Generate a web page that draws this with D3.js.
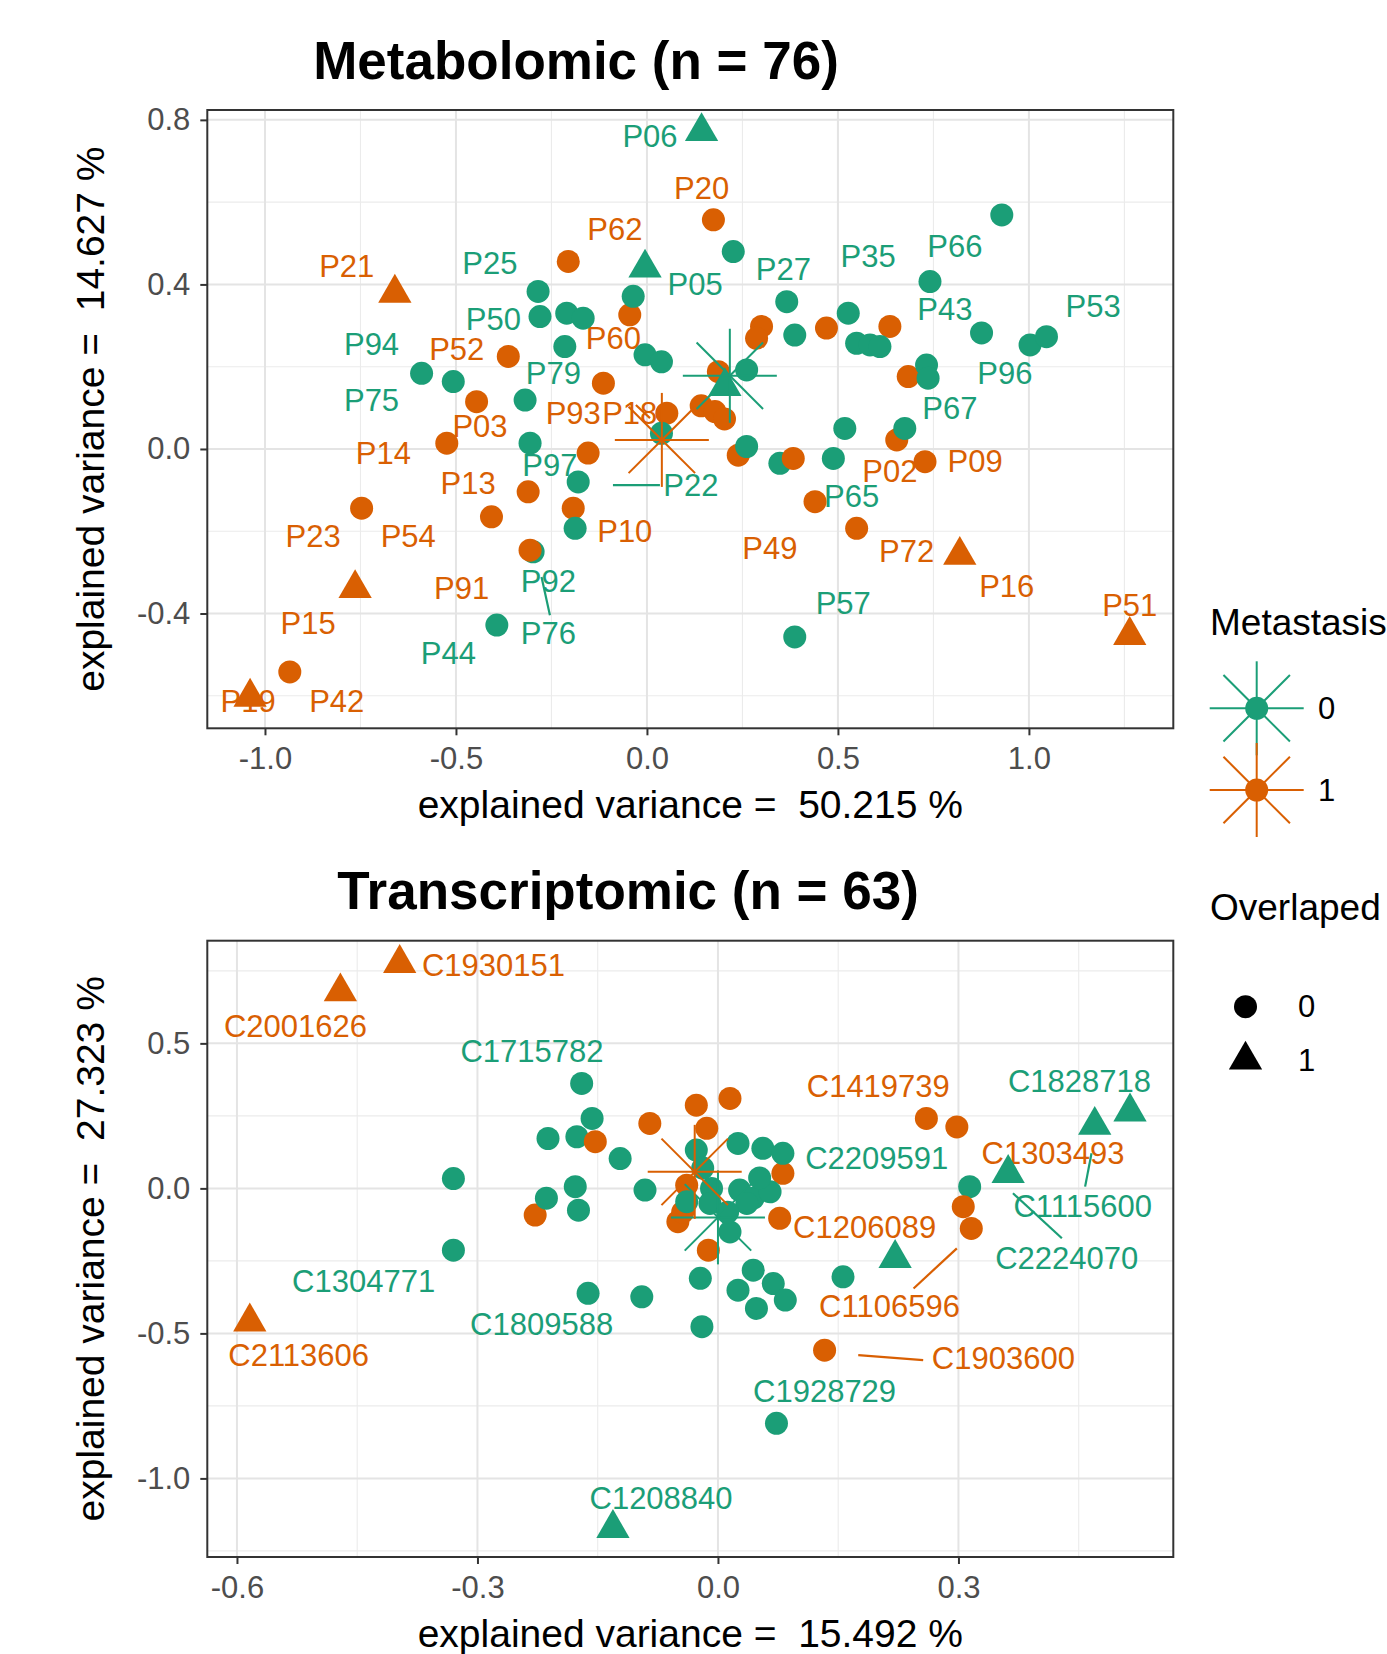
<!DOCTYPE html>
<html><head><meta charset="utf-8">
<script src="https://cdn.jsdelivr.net/npm/d3@7"></script>
<style>
body{margin:0;background:#fff}
svg{display:block}
text{font-family:"Liberation Sans",Arial,Helvetica,sans-serif;white-space:pre}
</style>
</head><body>
<svg id="chart" width="1387" height="1654"></svg>
<script>
// ---------------- DATA ----------------
const metastasisLevels = ["0", "1"];
const overlapLevels = ["0", "1"];
const seriesColors = ["#1B9E77", "#D95F02"];

// Metabolomic PCA samples: [PC1, PC2, metastasis, overlapped]
const metaSamples = [
  [-0.206,0.456,1,0],[-0.045,0.326,1,0],[-0.363,0.225,1,0],[-0.446,0.115,1,0],[-0.114,0.160,1,0],
  [0.052,0.087,1,0],[-0.524,0.014,1,0],[-0.154,-0.010,1,0],[-0.311,-0.104,1,0],[-0.407,-0.165,1,0],
  [-0.193,-0.144,1,0],[-0.747,-0.144,1,0],[-0.935,-0.542,1,0],[0.174,0.557,1,0],
  [0.300,0.298,1,0],[0.287,0.269,1,0],[0.470,0.294,1,0],[0.636,0.298,1,0],[0.684,0.176,1,0],
  [0.187,0.188,1,0],[0.142,0.105,1,0],[0.178,0.091,1,0],[0.203,0.073,1,0],[0.239,-0.015,1,0],
  [0.654,0.022,1,0],[0.728,-0.031,1,0],[0.440,-0.128,1,0],[0.549,-0.193,1,0],
  [-0.285,0.383,0,0],[-0.280,0.322,0,0],[-0.210,0.330,0,0],[-0.167,0.318,0,0],[-0.036,0.371,0,0],
  [-0.215,0.249,0,0],[-0.005,0.229,0,0],[0.038,0.212,0,0],[-0.590,0.184,0,0],[-0.507,0.164,0,0],
  [-0.319,0.119,0,0],[-0.306,0.014,0,0],[-0.180,-0.080,0,0],[-0.188,-0.193,0,0],[-0.298,-0.250,0,0],
  [-0.393,-0.428,0,0],[0.038,0.038,0,0],[0.226,0.480,0,0],[0.929,0.569,0,0],[0.741,0.407,0,0],
  [0.366,0.358,0,0],[0.387,0.277,0,0],[0.527,0.330,0,0],[0.549,0.257,0,0],[0.584,0.253,0,0],
  [0.610,0.249,0,0],[0.876,0.282,0,0],[1.003,0.253,0,0],[1.046,0.273,0,0],[0.732,0.204,0,0],
  [0.736,0.172,0,0],[0.261,0.192,0,0],[0.261,0.006,0,0],[0.348,-0.035,0,0],[0.518,0.050,0,0],
  [0.488,-0.023,0,0],[0.675,0.050,0,0],[0.387,-0.457,0,0],
  [0.143,0.772,0,1],[-0.005,0.440,0,1],[0.204,0.152,0,1],
  [0.383,-0.023,1,0],[-0.306,-0.246,1,0],
  [-0.660,0.379,1,1],[-0.764,-0.339,1,1],[-1.039,-0.603,1,1],[0.819,-0.258,1,1],[1.264,-0.453,1,1]
];
// labels: [text, x, y, metastasis]
const metaLabels = [
  ["P06",0.008,0.760,0],["P20",0.143,0.634,1],["P62",-0.084,0.533,1],["P21",-0.786,0.444,1],
  ["P25",-0.411,0.452,0],["P05",0.126,0.400,0],["P27",0.357,0.436,0],["P35",0.579,0.468,0],
  ["P66",0.806,0.492,0],["P43",0.780,0.338,0],["P53",1.168,0.346,0],["P50",-0.402,0.314,0],
  ["P60",-0.088,0.269,1],["P94",-0.721,0.253,0],["P52",-0.498,0.241,1],["P79",-0.245,0.184,0],
  ["P96",0.937,0.184,0],["P75",-0.721,0.119,0],["P67",0.793,0.099,0],["P93",-0.193,0.087,1],
  ["P18",-0.045,0.087,1],["P03",-0.437,0.054,1],["P14",-0.690,-0.010,1],["P97",-0.254,-0.039,0],
  ["P09",0.859,-0.031,1],["P02",0.636,-0.055,1],["P13",-0.468,-0.083,1],["P22",0.115,-0.088,0],
  ["P65",0.536,-0.116,0],["P10",-0.058,-0.201,1],["P23",-0.874,-0.213,1],["P54",-0.625,-0.213,1],
  ["P49",0.322,-0.242,1],["P72",0.680,-0.250,1],["P92",-0.258,-0.323,0],["P91",-0.485,-0.339,1],
  ["P16",0.942,-0.335,1],["P57",0.514,-0.375,0],["P51",1.264,-0.380,1],["P15",-0.887,-0.424,1],
  ["P76",-0.258,-0.448,0],["P44",-0.520,-0.497,0],["P19",-1.044,-0.615,1],["P42",-0.812,-0.615,1]
];
// label connector segments: [x1, y1, x2, y2, metastasis]
const metaSegments = [
  [-0.089,-0.088,0.034,-0.088,0],[-0.276,-0.311,-0.254,-0.404,0],[-0.029,0.107,0.008,0.075,1]
];
// group centroids: [x, y, metastasis]
const metaCentroids = [[0.217,0.178,0],[0.039,0.022,1]];
const metaXTicks = [-1.0,-0.5,0.0,0.5,1.0];
const metaXTickLabels = ["-1.0","-0.5","0.0","0.5","1.0"];
const metaYTicks = [0.8,0.4,0.0,-0.4];
const metaYTickLabels = ["0.8","0.4","0.0","-0.4"];

// Transcriptomic PCA samples
const transSamples = [
  [-0.228,-0.092,1,0],[-0.085,0.224,1,0],[-0.027,0.287,1,0],[0.015,0.310,1,0],[-0.014,0.207,1,0],
  [0.081,0.052,1,0],[-0.039,0.011,1,0],[-0.050,-0.115,1,0],[0.077,-0.103,1,0],[-0.012,-0.213,1,0],
  [0.260,0.241,1,0],[0.298,0.212,1,0],[0.316,-0.138,1,0],[0.133,-0.558,1,0],[-0.044,-0.082,1,0],
  [-0.170,0.362,0,0],[-0.157,0.241,0,0],[-0.212,0.172,0,0],[-0.176,0.178,0,0],[-0.122,0.103,0,0],
  [-0.330,0.034,0,0],[-0.214,-0.034,0,0],[-0.178,0.006,0,0],[-0.174,-0.075,0,0],[-0.091,-0.006,0,0],
  [-0.027,0.132,0,0],[0.025,0.155,0,0],[0.056,0.138,0,0],[0.081,0.121,0,0],[-0.039,-0.046,0,0],
  [-0.008,0.000,0,0],[-0.010,-0.052,0,0],[0.027,-0.006,0,0],[0.044,-0.034,0,0],[0.065,-0.012,0,0],
  [0.036,-0.052,0,0],[0.015,-0.150,0,0],[-0.022,-0.310,0,0],[0.044,-0.282,0,0],[0.025,-0.351,0,0],
  [0.069,-0.328,0,0],[0.084,-0.385,0,0],[0.048,-0.414,0,0],[-0.020,-0.477,0,0],[-0.162,-0.362,0,0],
  [-0.095,-0.374,0,0],[-0.330,-0.213,0,0],[0.156,-0.305,0,0],[0.314,0.006,0,0],[0.073,-0.810,0,0],
  [-0.019,0.070,0,0],[0.012,-0.082,0,0],[0.052,0.036,0,0],
  [0.514,0.264,0,1],[0.470,0.218,0,1],[0.362,0.052,0,1],[0.221,-0.241,0,1],[-0.131,-1.172,0,1],
  [-0.153,0.161,1,0],[0.306,-0.063,1,0],
  [-0.397,0.776,1,1],[-0.471,0.678,1,1],[-0.584,-0.460,1,1]
];
const transLabels = [
  ["C1930151",-0.280,0.770,1],["C2001626",-0.527,0.557,1],["C1715782",-0.232,0.471,0],
  ["C1419739",0.200,0.350,1],["C1828718",0.451,0.368,0],["C2209591",0.198,0.103,0],
  ["C1303493",0.418,0.121,1],["C1115600",0.455,-0.063,0],["C1206089",0.183,-0.136,1],
  ["C2224070",0.435,-0.241,0],["C1304771",-0.442,-0.322,0],["C1106596",0.214,-0.408,1],
  ["C1809588",-0.220,-0.471,0],["C2113606",-0.523,-0.575,1],["C1903600",0.356,-0.586,1],
  ["C1928729",0.133,-0.701,0],["C1208840",-0.071,-1.071,0]
];
const transSegments = [
  [0.458,0.006,0.466,0.121,0],[0.368,-0.017,0.429,-0.172,0],
  [0.298,-0.207,0.244,-0.345,1],[0.175,-0.575,0.256,-0.592,1]
];
const transCentroids = [[0.000,-0.100,0],[-0.029,0.057,1]];
const transXTicks = [-0.6,-0.3,0.0,0.3];
const transXTickLabels = ["-0.6","-0.3","0.0","0.3"];
const transYTicks = [0.5,0.0,-0.5,-1.0];
const transYTickLabels = ["0.5","0.0","-0.5","-1.0"];

const panelTitles = ["Metabolomic (n = 76)", "Transcriptomic (n = 63)"];
const xAxisTitles = ["explained variance =  50.215 %", "explained variance =  15.492 %"];
const yAxisTitles = ["explained variance =  14.627 %", "explained variance =  27.323 %"];
const legendTitles = ["Metastasis", "Overlaped"];

// ---------------- DRAWING ----------------
const svg = d3.select("#chart");
svg.append("rect").attr("width",1387).attr("height",1654).attr("fill","#fff");
const color = d3.scaleOrdinal().domain([0,1]).range(seriesColors);
const triangle = d3.symbol().type(d3.symbolTriangle).size(480);
const PT_R = 11.5, STAR = 47;

function star(g, cx, cy, col) {
  for (let k = 0; k < 8; k++) {
    const a = k * Math.PI / 4;
    g.append("line").attr("x1",cx).attr("y1",cy)
      .attr("x2",cx + STAR*Math.cos(a)).attr("y2",cy + STAR*Math.sin(a))
      .attr("stroke",col).attr("stroke-width",2);
  }
}

function minors(ticks, dom) {
  const s = Math.abs(ticks[1] - ticks[0]);
  const lo = Math.min(dom[0],dom[1]), hi = Math.max(dom[0],dom[1]);
  const out = [];
  for (let t = Math.min(...ticks) - s*3; t <= Math.max(...ticks) + s*3; t += s) {
    const m = t + s/2;
    if (m > lo && m < hi) out.push(m);
  }
  return out;
}

function drawPanel(p) {
  const x = d3.scaleLinear().domain(p.xDomain).range([p.left, p.right]);
  const y = d3.scaleLinear().domain(p.yDomain).range([p.top, p.bottom]);
  const g = svg.append("g");
  const grid = g.append("g");
  minors(p.xTicks, p.xDomain).forEach(v => grid.append("line").attr("x1",x(v)).attr("x2",x(v))
    .attr("y1",p.top).attr("y2",p.bottom).attr("stroke","#EBEBEB").attr("stroke-width",1.1));
  minors(p.yTicks, p.yDomain).forEach(v => grid.append("line").attr("y1",y(v)).attr("y2",y(v))
    .attr("x1",p.left).attr("x2",p.right).attr("stroke","#EBEBEB").attr("stroke-width",1.1));
  p.xTicks.forEach(v => grid.append("line").attr("x1",x(v)).attr("x2",x(v))
    .attr("y1",p.top).attr("y2",p.bottom).attr("stroke","#E4E4E4").attr("stroke-width",2));
  p.yTicks.forEach(v => grid.append("line").attr("y1",y(v)).attr("y2",y(v))
    .attr("x1",p.left).attr("x2",p.right).attr("stroke","#E4E4E4").attr("stroke-width",2));

  g.append("g").selectAll("text").data(p.labels).join("text")
    .attr("x", d => x(d[1])).attr("y", d => y(d[2]))
    .attr("text-anchor","middle").attr("dominant-baseline","central")
    .attr("font-size",31).attr("fill", d => color(d[3])).text(d => d[0]);
  g.append("g").selectAll("line").data(p.segments).join("line")
    .attr("x1", d => x(d[0])).attr("y1", d => y(d[1]))
    .attr("x2", d => x(d[2])).attr("y2", d => y(d[3]))
    .attr("stroke", d => color(d[4])).attr("stroke-width",2.2);
  const pts = g.append("g");
  p.samples.forEach(d => {
    if (d[3] === 0) {
      pts.append("circle").attr("cx",x(d[0])).attr("cy",y(d[1])).attr("r",PT_R).attr("fill",color(d[2]));
    } else {
      pts.append("path").attr("d",triangle).attr("transform",`translate(${x(d[0])},${y(d[1])})`)
        .attr("fill",color(d[2]));
    }
  });
  p.centroids.forEach(c => star(g, x(c[0]), y(c[1]), color(c[2])));

  const ax = g.append("g").attr("transform",`translate(0,${p.bottom})`)
    .call(d3.axisBottom(x).tickValues(p.xTicks).tickFormat((d,i)=>p.xTickLabels[i]).tickSize(7).tickPadding(12));
  const ay = g.append("g").attr("transform",`translate(${p.left},0)`)
    .call(d3.axisLeft(y).tickValues(p.yTicks).tickFormat((d,i)=>p.yTickLabels[i]).tickSize(7).tickPadding(10));
  [ax, ay].forEach(a => {
    a.select(".domain").remove();
    a.selectAll(".tick line").attr("stroke","#333").attr("stroke-width",2);
    a.selectAll(".tick text").attr("fill","#4D4D4D").attr("font-size",31)
      .attr("font-family",'"Liberation Sans",Arial,sans-serif');
  });
  g.append("rect").attr("x",p.left).attr("y",p.top).attr("width",p.right-p.left).attr("height",p.bottom-p.top)
    .attr("fill","none").attr("stroke","#333").attr("stroke-width",2);
  g.append("text").attr("x",p.titleX).attr("y",p.titleY).attr("text-anchor","middle")
    .attr("font-size",53).attr("font-weight","bold").attr("fill","#000").text(p.title);
  g.append("text").attr("x",(p.left+p.right)/2).attr("y",p.xTitleY).attr("text-anchor","middle")
    .attr("font-size",39).attr("fill","#000").text(p.xTitle);
  g.append("text").attr("transform",`translate(104,${(p.top+p.bottom)/2}) rotate(-90)`)
    .attr("text-anchor","middle").attr("font-size",39).attr("fill","#000").text(p.yTitle);
}

drawPanel({
  xDomain:[-1.151,1.378], yDomain:[0.824,-0.679], left:207.3, right:1173.3, top:110, bottom:728.3,
  xTicks:metaXTicks, xTickLabels:metaXTickLabels, yTicks:metaYTicks, yTickLabels:metaYTickLabels,
  samples:metaSamples, labels:metaLabels, segments:metaSegments, centroids:metaCentroids,
  title:panelTitles[0], titleX:576, titleY:79, xTitle:xAxisTitles[0], xTitleY:818, yTitle:yAxisTitles[0]
});
drawPanel({
  xDomain:[-0.637,0.568], yDomain:[0.854,-1.271], left:207.3, right:1173.3, top:940.7, bottom:1557,
  xTicks:transXTicks, xTickLabels:transXTickLabels, yTicks:transYTicks, yTickLabels:transYTickLabels,
  samples:transSamples, labels:transLabels, segments:transSegments, centroids:transCentroids,
  title:panelTitles[1], titleX:628, titleY:909, xTitle:xAxisTitles[1], xTitleY:1647, yTitle:yAxisTitles[1]
});

// ---------------- LEGEND ----------------
const lg = svg.append("g");
lg.append("text").attr("x",1210).attr("y",635).attr("font-size",37).attr("fill","#000").text(legendTitles[0]);
metastasisLevels.forEach((lv,i) => {
  const cy = 708.3 + i*81.7;
  star(lg, 1256.7, cy, color(i));
  lg.append("circle").attr("cx",1256.7).attr("cy",cy).attr("r",PT_R).attr("fill",color(i));
  lg.append("text").attr("x",1318).attr("y",cy).attr("dominant-baseline","central")
    .attr("font-size",31).attr("fill","#000").text(lv);
});
lg.append("text").attr("x",1210).attr("y",920).attr("font-size",37).attr("fill","#000").text(legendTitles[1]);
overlapLevels.forEach((lv,i) => {
  const cy = 1006.7 + i*53.3;
  if (i === 0) lg.append("circle").attr("cx",1245.5).attr("cy",cy).attr("r",PT_R).attr("fill","#000");
  else lg.append("path").attr("d",triangle).attr("transform",`translate(1245.5,${cy})`).attr("fill","#000");
  lg.append("text").attr("x",1298).attr("y",cy).attr("dominant-baseline","central")
    .attr("font-size",31).attr("fill","#000").text(lv);
});
</script>
</body></html>
